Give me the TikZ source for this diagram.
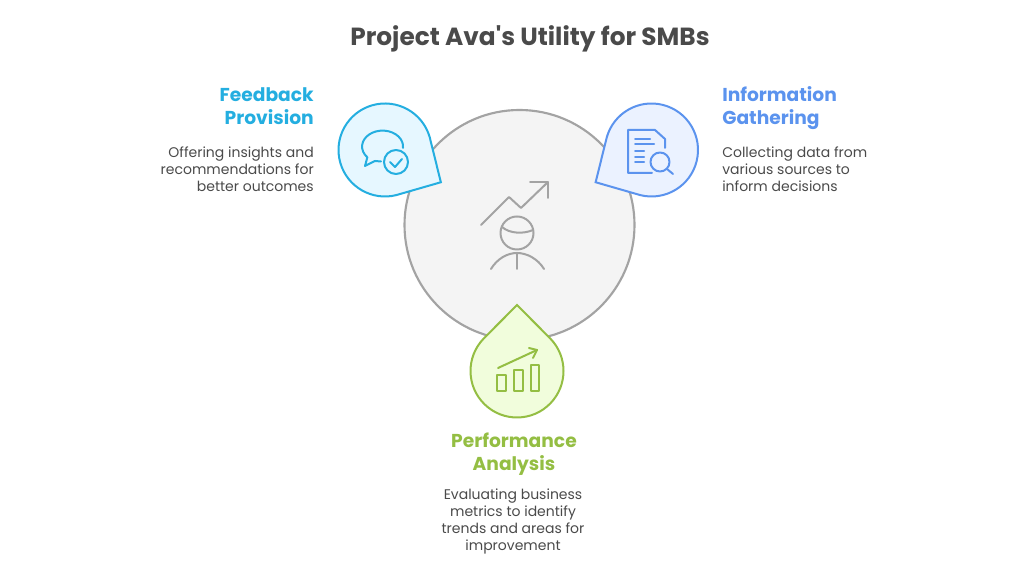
\documentclass[tikz,border=0pt]{standalone}
\usepackage{fontspec}
\setmainfont{Poppins}
\newfontfamily\titlefont{Poppins}
\usepackage{xcolor}
\usepackage{tikz}
\usetikzlibrary{calc}

\definecolor{inktext}{HTML}{4A4A4A}
\definecolor{feedline}{HTML}{24AEE0}
\definecolor{feedfill}{HTML}{E6F7FF}
\definecolor{infoline}{HTML}{5B93EE}
\definecolor{infofill}{HTML}{EBF2FF}
\definecolor{perfline}{HTML}{94BE43}
\definecolor{perffill}{HTML}{F1FDDC}
\definecolor{hubline}{HTML}{A3A3A3}
\definecolor{hubfill}{HTML}{F4F4F4}

\tikzset{
  headtext/.style={inner sep=0pt, font=\fontsize{14}{17.25}\selectfont\bfseries, align=#1},
  bodytext/.style={inner sep=0pt, font=\fontsize{10.5}{12.75}\selectfont, text=inktext, align=#1},
  icon/.style={line width=1.5pt, line cap=round, line join=round},
}

% drop: centre, direction of the tip, distance of the tip
\newcommand{\drop}[5]{
  \draw[line width=1.5pt, line join=miter, draw=#4, fill=#5]
    ($(#1)+(#2:#3)$) -- ($(#1)+(#2+46:46.5)$)
    arc[start angle=#2+46, end angle=#2+314, radius=46.5] -- cycle;
}

\begin{document}
\begin{tikzpicture}[x=0.75pt, y=0.75pt]
\useasboundingbox (0,0) rectangle (1024,577);

\node[inner sep=0pt, font=\titlefont\fontsize{18.6}{22}\selectfont\bfseries, text=inktext] (title) at (530,538) {Project Ava's Utility for SMBs};

% hub
\draw[line width=1.6pt, draw=hubline, fill=hubfill] (519.5,352) circle (115);
\draw[icon, draw=hubline] (481,352)--(509,380)--(521,369)--(548,395);
\draw[icon, draw=hubline] (530,395)--(548,395)--(548,379);
\draw[icon, draw=hubline] (517,344) circle (16.5);
\draw[icon, draw=hubline] (502,350) .. controls (510,343) and (524,343) .. (533,347);
\draw[icon, draw=hubline] (491,308) .. controls (497,318) and (507,324) .. (517,324)
  .. controls (527,324) and (538,318) .. (544,308);
\draw[icon, draw=hubline] (517,324)--(517,308);

% three drops
\drop{385,427}{-30}{64.5}{feedline}{feedfill}
\drop{651.5,427}{210}{64.5}{infoline}{infofill}
\drop{517,206}{90}{66}{perfline}{perffill}

% feedback icon
\draw[icon, draw=feedline] (403,429) arc[start angle=-5, end angle=222, x radius=20.5, y radius=16]
  -- (365,411) -- (375,416) -- (381,415.5);
\draw[icon, draw=feedline] (396,415) circle (12);
\draw[icon, draw=feedline] (390,415)--(395,410)--(402,418);

% info icon
\draw[icon, draw=infoline] (652,404)--(628,404)--(628,447)--(655,447)--(665,438)--(665,429);
\draw[icon, draw=infoline] (635,438)--(650,438);
\draw[icon, draw=infoline] (635,433)--(654,433);
\draw[icon, draw=infoline] (635,426)--(644,426);
\draw[icon, draw=infoline] (635,420)--(644,420);
\draw[icon, draw=infoline] (635,415)--(644,415);
\draw[icon, draw=infoline] (660,415) circle (9.5);
\draw[icon, draw=infoline] (667,408)--(673,403);

% performance icon
\foreach \xa/\xb/\ytop in {497/506/202, 514/523/207, 531/539/212}
  \draw[icon, draw=perfline] (\xa,186) rectangle (\xb,\ytop);
\draw[icon, draw=perfline] (498,209)--(537,227);
\draw[icon, draw=perfline] (529,229)--(537,227)--(533,219);

% labels
\node[headtext=right, text=feedline, anchor=east] (feedhead) at (314,471) {Feedback\\Provision};
\node[bodytext=right, anchor=east] (feedbody) at (314,408) {Offering insights and\\recommendations for\\better outcomes};
\node[headtext=left, text=infoline, anchor=west] (infohead) at (722,468.5) {Information\\Gathering};
\node[bodytext=left, anchor=west] (infobody) at (722,408) {Collecting data from\\various sources to\\inform decisions};
\node[headtext=center, text=perfline] (perfhead) at (514,123) {Performance\\Analysis};
\node[bodytext=center] (perfbody) at (513,55.5) {Evaluating business\\metrics to identify\\trends and areas for\\improvement};
\end{tikzpicture}
\end{document}
